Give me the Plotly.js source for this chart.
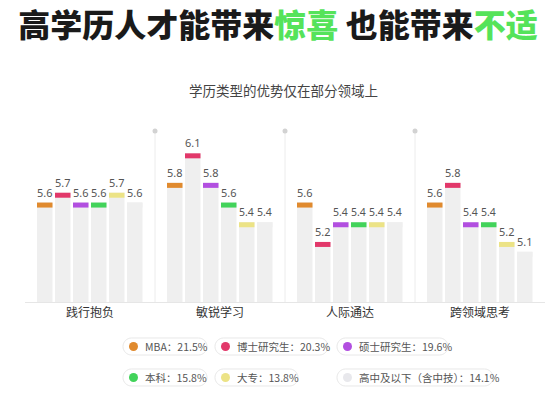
<!DOCTYPE html>
<html>
<head>
<meta charset="utf-8">
<script src="https://cdn.plot.ly/plotly-3.0.1.min.js"></script>
<style>html,body{margin:0;padding:0;background:#fff;}#chart{width:550px;height:397px;}</style>
</head>
<body>
<div id="chart"></div>
<script>
// ---- data ----
var categories = ['践行抱负', '敏锐学习', '人际通达', '跨领域思考'];
var seriesNames = ['MBA', '博士研究生', '硕士研究生', '本科', '大专', '高中及以下（含中技）'];
var seriesShares = [21.5, 20.3, 19.6, 15.8, 13.8, 14.1];
var mba        = [5.6, 5.8, 5.6, 5.6];
var phd        = [5.7, 6.1, 5.2, 5.8];
var master     = [5.6, 5.8, 5.4, 5.4];
var bachelor   = [5.6, 5.6, 5.4, 5.4];
var college    = [5.7, 5.4, 5.4, 5.2];
var highschool = [5.6, 5.4, 5.4, 5.1];
var allSeries = [mba, phd, master, bachelor, college, highschool];

// ---- styles ----
var capColors = ['#e08a2e', '#e2386a', '#b24fe0', '#42d35a', '#ece386', '#efefef'];
var dotColors = ['#e08a2e', '#e2386a', '#b24fe0', '#42d35a', '#ece386', '#e8e8ec'];
var barColor = '#efefef';
var W = 550, H = 397, ML = 25, MR = 5, MT = 130, MB = 95;
var plotW = W - ML - MR, plotH = H - MT - MB;
var catPx = plotW / categories.length;
var slotPx = 18, barPx = 15.5, groupStartPx = -53;
var yRange = [4.59, 6.337];
var capH = 5 / (plotH / (yRange[1] - yRange[0]));

function px2x(px) { return (px - ML) / plotW; }
function px2y(py) { return (H - MB - py) / plotH; }

var traces = [];
allSeries.forEach(function (vals, i) {
  var off = (groupStartPx + slotPx * i) / catPx;
  var wid = barPx / catPx;
  traces.push({
    type: 'bar', x: categories, y: vals, name: seriesNames[i],
    marker: { color: barColor }, offset: off, width: wid,
    hoverinfo: 'skip', showlegend: false
  });
  traces.push({
    type: 'bar', x: categories,
    y: vals.map(function () { return capH; }),
    base: vals.map(function (v) { return v - capH; }),
    marker: { color: capColors[i] }, offset: off, width: wid,
    text: vals.map(function (v) { return v.toFixed(1); }),
    textposition: 'outside', cliponaxis: false,
    textfont: { family: 'Noto Sans, Noto Sans CJK SC, sans-serif', size: 11, color: '#555' },
    hoverinfo: 'skip', showlegend: false
  });
});

var shapes = [];
var annotations = [];

// separators between groups
[0.5, 1.5, 2.5].forEach(function (xv) {
  var cx = ML + (xv + 0.5) * catPx;
  shapes.push({ type: 'line', xref: 'paper', yref: 'paper', x0: px2x(cx), x1: px2x(cx),
    y0: 0, y1: px2y(131), line: { color: '#ececec', width: 1 }, layer: 'below' });
  shapes.push({ type: 'circle', xref: 'paper', yref: 'paper',
    x0: px2x(cx - 2.5), x1: px2x(cx + 2.5), y0: px2y(133.5), y1: px2y(128.5),
    fillcolor: '#d2d2d2', line: { width: 0 } });
});

// legend pills
var pillBoxes = [[123, 207, 338], [215, 328, 338], [337, 448, 338],
                 [123, 207, 369], [215, 298, 369], [337, 493, 369]];
var pillHt = 17;
function pt(x, y) { return px2x(x).toFixed(5) + ',' + px2y(y).toFixed(5); }
pillBoxes.forEach(function (b, i) {
  var x0 = b[0], x1 = b[1], yt = b[2], yb = b[2] + pillHt, yc = (yt + yb) / 2, r = pillHt / 2, k = 0.5523 * r;
  var path = 'M' + pt(x0 + r, yt) + ' L' + pt(x1 - r, yt) +
    ' C' + pt(x1 - r + k, yt) + ' ' + pt(x1, yc - k) + ' ' + pt(x1, yc) +
    ' C' + pt(x1, yc + k) + ' ' + pt(x1 - r + k, yb) + ' ' + pt(x1 - r, yb) +
    ' L' + pt(x0 + r, yb) +
    ' C' + pt(x0 + r - k, yb) + ' ' + pt(x0, yc + k) + ' ' + pt(x0, yc) +
    ' C' + pt(x0, yc - k) + ' ' + pt(x0 + r - k, yt) + ' ' + pt(x0 + r, yt) + ' Z';
  shapes.push({ type: 'path', xref: 'paper', yref: 'paper', path: path,
    fillcolor: '#ffffff', line: { color: '#e8e8e8', width: 1 } });
  var dx = x0 + 10.5, dr = 4.5;
  shapes.push({ type: 'circle', xref: 'paper', yref: 'paper',
    x0: px2x(dx - dr), x1: px2x(dx + dr), y0: px2y(yc + dr), y1: px2y(yc - dr),
    fillcolor: dotColors[i], line: { width: 0 } });
  annotations.push({ xref: 'paper', yref: 'paper', x: px2x(x0 + 20), y: px2y(yc),
    xanchor: 'left', yanchor: 'middle', showarrow: false,
    text: seriesNames[i] + '：' + seriesShares[i].toFixed(1) + '%',
    font: { family: 'Noto Sans CJK SC, sans-serif', size: 10.5, color: '#555' } });
});

// subtitle
annotations.push({ xref: 'paper', yref: 'paper', x: px2x(283), y: px2y(90),
  xanchor: 'center', yanchor: 'middle', showarrow: false,
  text: '学历类型的优势仅在部分领域上',
  font: { family: 'Noto Sans CJK SC, sans-serif', size: 13.5, color: '#444' } });

var layout = {
  width: W, height: H,
  margin: { l: ML, r: MR, t: MT, b: MB, pad: 0 },
  paper_bgcolor: '#fff', plot_bgcolor: '#fff',
  barmode: 'overlay',
  showlegend: false,
  title: {
    text: '高学历人才能带来<span style="color:#55e35a">惊喜</span> 也能带来<span style="color:#55e35a">不适</span>',
    x: 278 / W, xanchor: 'center', y: 1 - 26 / H, yanchor: 'middle', xref: 'container',
    font: { family: 'Noto Sans CJK SC, sans-serif', size: 32, color: '#1a1a1a', weight: 900 }
  },
  xaxis: {
    type: 'category', range: [-0.5, categories.length - 0.5],
    showline: true, linecolor: '#e6e6e6', linewidth: 1,
    showgrid: false, zeroline: false, ticks: '',
    tickfont: { family: 'Noto Sans CJK SC, sans-serif', size: 12, color: '#333' },
    fixedrange: true
  },
  yaxis: { range: yRange, visible: false, showgrid: false, zeroline: false, fixedrange: true },
  shapes: shapes,
  annotations: annotations
};

Plotly.newPlot('chart', traces, layout, { displayModeBar: false, staticPlot: true });
</script>
</body>
</html>
